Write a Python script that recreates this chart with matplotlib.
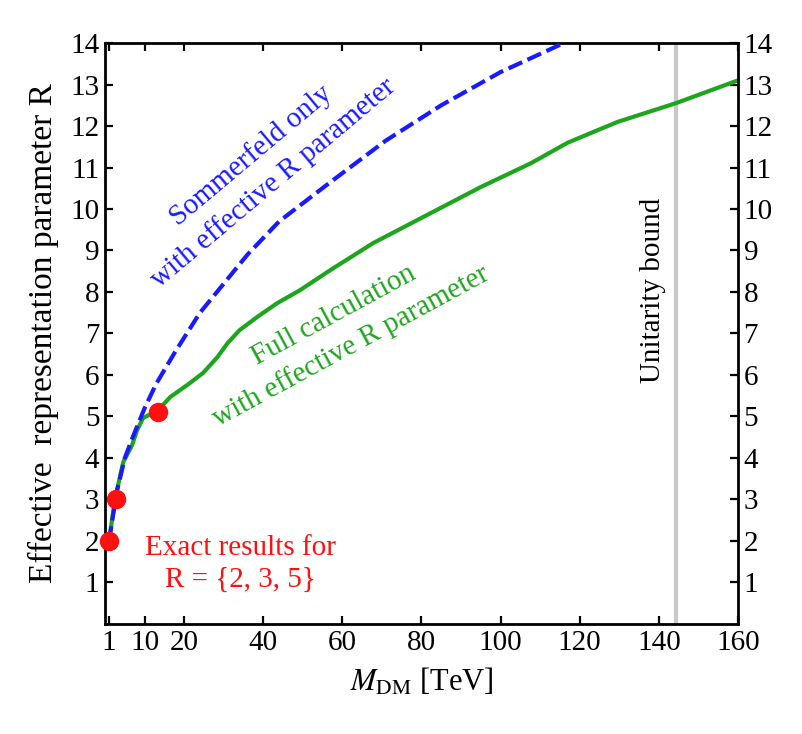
import numpy as np
import matplotlib
matplotlib.use("Agg")
import matplotlib.pyplot as plt

plt.rcParams['font.family'] = ['Liberation Serif', 'DejaVu Serif']
plt.rcParams['mathtext.fontset'] = 'stix'

# full calculation (green, solid)
full_m = [1, 2.5, 4.6, 6.8, 8.1, 9.6, 13.4, 16.5, 20.8, 24.8, 28.4, 31, 34, 38.5,
          43.5, 49.4, 57, 67.8, 82.3, 95, 107.6, 117, 129.6, 144.3, 160]
full_r = [2.0, 3.0, 3.9, 4.3, 4.67, 4.96, 5.15, 5.47, 5.76, 6.05, 6.43, 6.77, 7.08, 7.40,
          7.73, 8.05, 8.53, 9.18, 9.9, 10.53, 11.1, 11.6, 12.1, 12.55, 13.1]

# Sommerfeld only (blue, dashed)
somm_m = [1, 3, 5, 7, 10, 13, 18, 24, 30, 36, 44, 57, 71, 85, 100, 116]
somm_r = [2.0, 3.2, 4.0, 4.5, 5.2, 5.8, 6.6, 7.5, 8.2, 8.9, 9.7, 10.65, 11.65, 12.5, 13.3, 14.0]

# exact results
exact_m = [1, 2.8, 13.3]
exact_r = [2, 3, 5.1]

unitarity_m = 144.3

xticks = [1, 10, 20, 40, 60, 80, 100, 120, 140, 160]
yticks = list(range(1, 15))

fig = plt.figure(figsize=(8.03, 7.34), dpi=100)
ax = fig.add_axes([0.1308, 0.1499, 0.919 - 0.1308, 0.9414 - 0.1499])

ax.axvline(unitarity_m, color='#c8c8c8', lw=3, zorder=1)
ax.plot(full_m, full_r, color='#1ea51e', lw=3, zorder=2)
ax.plot(somm_m, somm_r, color='#1a1aff', lw=3, dashes=(3.6, 1.4), zorder=3)
ax.plot(exact_m, exact_r, 'o', color='#ff1010', ms=13, zorder=4, clip_on=False)

ax.set_xlim(0, 160)
ax.set_ylim(0, 14)
ax.set_xticks(xticks)
ax.set_yticks(yticks)
ax.tick_params(direction='in', length=6, width=1.6, labelsize=21,
               top=True, right=True, labelright=True, pad=4)
for s in ax.spines.values():
    s.set_linewidth(2)

ax.set_xlabel(r'$M_{\rm DM}$ [TeV]', fontsize=22, labelpad=8)
ax.set_ylabel('Effective  representation parameter R', fontsize=24, labelpad=8)

ax.text(39.7, 10.96, 'Sommerfeld only\nwith effective R parameter', color='#1a1aff',
        fontsize=21, rotation=40, ha='center', va='center', multialignment='center',
        rotation_mode='anchor', linespacing=1.4)
ax.text(60, 7.06, 'Full calculation\nwith effective R parameter', color='#1ea51e',
        fontsize=21, rotation=28.5, ha='center', va='center', multialignment='center',
        rotation_mode='anchor', linespacing=1.4)
ax.text(138.5, 8.05, 'Unitarity bound', color='black', fontsize=21, rotation=90,
        ha='center', va='center')
ax.text(34.2, 1.45, 'Exact results for\nR = {2, 3, 5}', color='#ff1010', fontsize=21,
        ha='center', va='center', multialignment='center', linespacing=1.3)

fig.savefig('out.png', dpi=100)
